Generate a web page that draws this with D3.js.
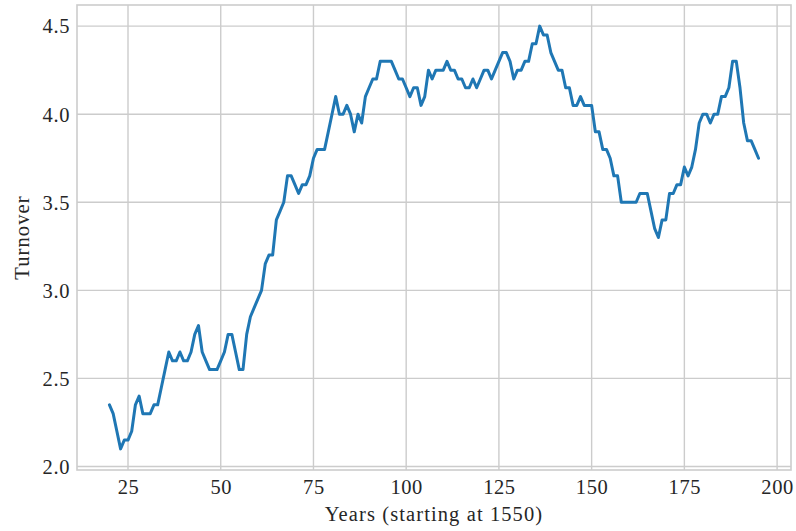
<!DOCTYPE html>
<html>
<head>
<meta charset="utf-8">
<script src="https://cdn.jsdelivr.net/npm/d3@7"></script>
<style>
  html, body { margin: 0; padding: 0; background: #ffffff; }
  svg { display: block; }
  text { font-family: "Liberation Serif", "DejaVu Serif", serif; fill: #262626; }
</style>
</head>
<body>
<svg id="chart" width="796" height="531"></svg>
<script>
// Years since 1550 (x) and the turnover value for each year (y)
const years = d3.range(20, 196);
const turnover = [
  2.35, 2.30, 2.20, 2.10, 2.15, 2.15, 2.20, 2.35, 2.40, 2.30, // 20-29
  2.30, 2.30, 2.35, 2.35, 2.45, 2.55, 2.65, 2.60, 2.60, 2.65, // 30-39
  2.60, 2.60, 2.65, 2.75, 2.80, 2.65, 2.60, 2.55, 2.55, 2.55, // 40-49
  2.60, 2.65, 2.75, 2.75, 2.65, 2.55, 2.55, 2.75, 2.85, 2.90, // 50-59
  2.95, 3.00, 3.15, 3.20, 3.20, 3.40, 3.45, 3.50, 3.65, 3.65, // 60-69
  3.60, 3.55, 3.60, 3.60, 3.65, 3.75, 3.80, 3.80, 3.80, 3.90, // 70-79
  4.00, 4.10, 4.00, 4.00, 4.05, 4.00, 3.90, 4.00, 3.95, 4.10, // 80-89
  4.15, 4.20, 4.20, 4.30, 4.30, 4.30, 4.30, 4.25, 4.20, 4.20, // 90-99
  4.15, 4.10, 4.15, 4.15, 4.05, 4.10, 4.25, 4.20, 4.25, 4.25, // 100-109
  4.25, 4.30, 4.25, 4.25, 4.20, 4.20, 4.15, 4.15, 4.20, 4.15, // 110-119
  4.20, 4.25, 4.25, 4.20, 4.25, 4.30, 4.35, 4.35, 4.30, 4.20, // 120-129
  4.25, 4.25, 4.30, 4.30, 4.40, 4.40, 4.50, 4.45, 4.45, 4.35, // 130-139
  4.30, 4.25, 4.25, 4.15, 4.15, 4.05, 4.05, 4.10, 4.05, 4.05, // 140-149
  4.05, 3.90, 3.90, 3.80, 3.80, 3.75, 3.65, 3.65, 3.50, 3.50, // 150-159
  3.50, 3.50, 3.50, 3.55, 3.55, 3.55, 3.45, 3.35, 3.30, 3.40, // 160-169
  3.40, 3.55, 3.55, 3.60, 3.60, 3.70, 3.65, 3.70, 3.80, 3.95, // 170-179
  4.00, 4.00, 3.95, 4.00, 4.00, 4.10, 4.10, 4.15, 4.30, 4.30, // 180-189
  4.15, 3.95, 3.85, 3.85, 3.80, 3.75                          // 190-195
];
const xTicks = [25, 50, 75, 100, 125, 150, 175, 200];
const yTicks = [2.0, 2.5, 3.0, 3.5, 4.0, 4.5];

const plot = { left: 77, right: 791, top: 5, bottom: 470 };
const gridColor = "#cccccc";
const fontSize = 20.5;
const serif = "'Liberation Serif', 'DejaVu Serif', serif";

const svg = d3.select("#chart");

// 5% padding around the data range on both axes
const xMin = d3.min(years), xMax = d3.max(years);
const yMin = d3.min(turnover), yMax = d3.max(turnover);
const xPad = (xMax - xMin) * 0.05, yPad = (yMax - yMin) * 0.05;

const x = d3.scaleLinear()
  .domain([xMin - xPad, xMax + xPad])
  .range([plot.left, plot.right]);
const y = d3.scaleLinear()
  .domain([yMin - yPad, yMax + yPad])
  .range([plot.bottom, plot.top]);

// Grid lines
const grid = svg.append("g");
grid.selectAll("line.vx").data(xTicks).join("line")
  .attr("x1", d => x(d)).attr("x2", d => x(d))
  .attr("y1", plot.top).attr("y2", plot.bottom)
  .attr("stroke", gridColor).attr("stroke-width", 1.4);
grid.selectAll("line.hy").data(yTicks).join("line")
  .attr("x1", plot.left).attr("x2", plot.right)
  .attr("y1", d => y(d)).attr("y2", d => y(d))
  .attr("stroke", gridColor).attr("stroke-width", 1.4);

// Axes with tick labels only (no tick marks)
const xAxis = d3.axisBottom(x).tickValues(xTicks).tickSize(0).tickPadding(0)
  .tickFormat(d3.format("d"));
const gx = svg.append("g")
  .attr("transform", `translate(0,${plot.bottom})`)
  .call(xAxis)
  .attr("font-family", serif)
  .attr("font-size", fontSize);
gx.select(".domain").remove();
gx.selectAll("text")
  .attr("y", 23.5).attr("dy", null)
  .attr("letter-spacing", "0.6px")
  .attr("fill", "#262626");

const yAxis = d3.axisLeft(y).tickValues(yTicks).tickSize(0).tickPadding(0)
  .tickFormat(d3.format(".1f"));
const gy = svg.append("g")
  .attr("transform", `translate(${plot.left},0)`)
  .call(yAxis)
  .attr("font-family", serif)
  .attr("font-size", fontSize);
gy.select(".domain").remove();
gy.selectAll("text")
  .attr("x", -7).attr("dy", null).attr("y", 6.8)
  .attr("letter-spacing", "0.6px")
  .attr("fill", "#262626");

// Frame
svg.append("rect")
  .attr("x", plot.left).attr("y", plot.top)
  .attr("width", plot.right - plot.left).attr("height", plot.bottom - plot.top)
  .attr("fill", "none").attr("stroke", gridColor).attr("stroke-width", 1.6);

// Turnover line
const line = d3.line()
  .x((d, i) => x(years[i]))
  .y(d => y(d));
svg.append("path")
  .datum(turnover)
  .attr("d", line)
  .attr("fill", "none")
  .attr("stroke", "#1f77b4")
  .attr("stroke-width", 3)
  .attr("stroke-linejoin", "round")
  .attr("stroke-linecap", "round");

// Axis titles
svg.append("text")
  .attr("x", (plot.left + plot.right) / 2)
  .attr("y", 521)
  .attr("text-anchor", "middle")
  .attr("font-size", fontSize)
  .attr("letter-spacing", "1.1px")
  .text("Years (starting at 1550)");

svg.append("text")
  .attr("transform", `translate(29,${(plot.top + plot.bottom) / 2}) rotate(-90)`)
  .attr("text-anchor", "middle")
  .attr("font-size", fontSize)
  .attr("letter-spacing", "1.1px")
  .text("Turnover");
</script>
</body>
</html>
